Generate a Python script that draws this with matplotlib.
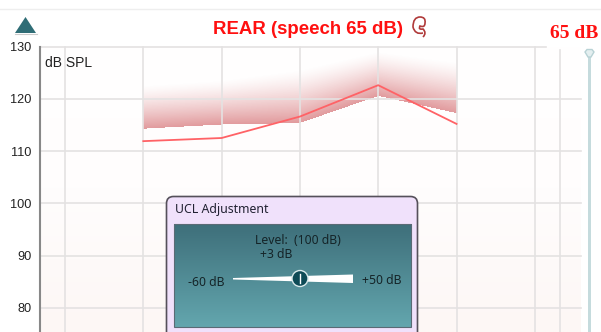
import numpy as np
import matplotlib
matplotlib.use("Agg")
import matplotlib.pyplot as plt
from matplotlib.patches import FancyBboxPatch, Polygon, Circle, Rectangle, PathPatch
from matplotlib.path import Path
from matplotlib.colors import LinearSegmentedColormap

plt.rcParams['font.family'] = ['Liberation Sans', 'DejaVu Sans']

# values
grid_freqs = [125, 250, 500, 1000, 2000, 4000, 8000, 10000]
y_ticks = [80, 90, 100, 110, 120, 130]
freqs = [250, 500, 1000, 2000, 4000]
rear_curve = [111.9, 112.5, 116.6, 122.6, 115.2]
band_lower = [114.2, 115.0, 115.3, 120.5, 117.2]
band_upper = [122.5, 123.5, 125.5, 129.0, 127.0]

teal = "#2f6d76"
red = "#ff1010"
grid_col = "#e4e2e2"
panel_font = ["Noto Sans", "DejaVu Sans"]


def px_to_freq(px):
    return 125 * 2 ** ((px - 65) / 78.3)


fig = plt.figure(figsize=(6.01, 3.32), dpi=100, facecolor="white")
ax = fig.add_axes([40 / 601, 0, (581 - 40) / 601, (332 - 46.5) / 332])
ax.set_xscale('log', base=2)
ax.set_xlim(px_to_freq(40), px_to_freq(581))
ax.set_ylim(75.4, 130)

# faint pink wash towards the bottom of the plot
wash = LinearSegmentedColormap.from_list("wash", ["#fdf7f5", "#fffdfd", "#ffffff"])
ax.imshow(np.linspace(0, 1, 100).reshape(-1, 1), cmap=wash, origin="lower", aspect="auto",
          extent=[*ax.get_xlim(), 75.4, 130], zorder=0, transform=ax.transData)
ax.set_xscale('log', base=2)
ax.set_xlim(px_to_freq(40), px_to_freq(581))
ax.set_ylim(75.4, 130)

# band fades upwards from its lower edge, one cell per pixel
grid_x = np.geomspace(freqs[0], freqs[-1], 314)
grid_y = np.linspace(110, 130, 105)
low = np.interp(np.log2(grid_x), np.log2(freqs), band_lower)
up = np.interp(np.log2(grid_x), np.log2(freqs), band_upper)
frac = (grid_y[:, None] - low) / (up - low)
rgba = np.zeros((len(grid_y), len(grid_x), 4))
rgba[..., :3] = (0.77, 0.22, 0.24)
rgba[..., 3] = np.where((frac >= 0) & (frac <= 1), 0.5 * (1 - np.clip(frac, 0, 1)) ** 1.3, 0)
ax.pcolormesh(grid_x, grid_y, rgba, shading="nearest", zorder=1, antialiased=False, linewidth=0)
ax.set_xlim(px_to_freq(40), px_to_freq(581))
ax.set_ylim(75.4, 130)

for f in grid_freqs:
    ax.plot([f, f], [75.4, 129.3 if f == 10000 else 130], color=grid_col, lw=1.2, zorder=2, clip_on=False)
for y in y_ticks:
    xmax = px_to_freq(546) if y == 130 else px_to_freq(581)
    ax.plot([px_to_freq(40), xmax], [y, y], color=grid_col, lw=1.2, zorder=2, clip_on=False)

ax.plot(freqs, rear_curve, color="#ff6266", lw=1.3, zorder=3)

for s in ["top", "right", "bottom"]:
    ax.spines[s].set_visible(False)
ax.spines["left"].set_color("#888888")
ax.spines["left"].set_linewidth(1.5)
ax.set_xticks([])
ax.minorticks_off()
ax.set_xticks([], minor=True)
ax.set_yticks(y_ticks)
ax.set_yticklabels([str(v) for v in y_ticks], fontsize=9.2, color="#222222")
ax.tick_params(axis="y", length=0, pad=6)

# overlay in pixel coordinates for the window furniture
ov = fig.add_axes([0, 0, 1, 1], facecolor="none")
ov.set_axis_off()

ov.plot([0, 601], [9, 9], color="#eeeeee", lw=1)
ov.add_patch(Polygon([[15, 33], [36, 33], [25.5, 17]], closed=True, facecolor=teal, edgecolor="none"))
ov.plot([15, 37], [34, 34], color="#cccccc", lw=0.8)

ov.text(45, 63, "dB SPL", fontsize=10, color="#222222", va="center", ha="left")
ov.text(213, 29.5, "REAR (speech 65 dB)", fontsize=13.4, color=red, va="center", ha="left", fontweight="bold")
ov.text(550, 33, "65 dB", fontsize=14, color=red, va="center", ha="left",
        family=["Liberation Serif"], fontweight="bold")

# ear
ear = Path([(423, 33), (415, 35), (413, 27), (413, 17), (420, 17), (426, 17), (425, 23),
            (425, 28), (420, 26), (418, 30), (423, 29), (427, 33), (423, 37)],
           [1, 3, 3, 3, 3, 3, 3, 3, 3, 3, 3, 3, 3])
ov.add_patch(PathPatch(ear, facecolor="none", edgecolor="#b03a3a", lw=1.2))

# level slider
ov.add_patch(Rectangle((587.5, 56), 3.5, 280, facecolor="#c5dbdd", edgecolor="none"))
ov.add_patch(Polygon([[585, 52], [587, 49.5], [592, 49.5], [594, 52], [591, 57], [588, 57]],
                     closed=True, facecolor="#e4eff0", edgecolor="#b8d2d5", lw=1))

# UCL panel
ov.add_patch(FancyBboxPatch((170, 200), 244, 140, boxstyle="round,pad=3.5,rounding_size=7",
                            facecolor="#f0e1fb", edgecolor="#55505a", lw=1.2, zorder=4))
teal_grad = LinearSegmentedColormap.from_list("tg", ["#3e6f7a", "#63a6ae"])
ov.imshow(np.linspace(0, 1, 100).reshape(-1, 1), cmap=teal_grad, aspect="auto",
          extent=[173.5, 411, 327, 224], zorder=5)
ov.add_patch(Rectangle((173.5, 224), 237.5, 103, facecolor="none", edgecolor="#5a6a75", lw=0.8, zorder=6))
ov.text(175, 210, "UCL Adjustment", fontsize=8.9, color="#222233", va="center", ha="left", zorder=6, family=panel_font)
ov.text(255, 240, "Level:  (100 dB)", fontsize=8.8, color="#152428", va="center", ha="left", zorder=7, family=panel_font)
ov.text(260, 254, "+3 dB", fontsize=8.8, color="#152428", va="center", ha="left", zorder=7, family=panel_font)
ov.text(188, 283, "-60 dB", fontsize=8.8, color="#152428", va="center", ha="left", zorder=7, family=panel_font)
ov.text(362, 281, "+50 dB", fontsize=8.8, color="#152428", va="center", ha="left", zorder=7, family=panel_font)
ov.add_patch(Polygon([[233, 278], [353, 274.5], [353, 283], [233, 279.5]], closed=True,
                     facecolor="white", edgecolor="none", zorder=7))
ov.add_patch(Circle((300, 278.5), 8, facecolor="#0d4a56", edgecolor="#d8e8ea", lw=1, zorder=8))
ov.plot([300, 300], [274, 283], color="white", lw=1, zorder=9)

ov.set_xlim(0, 601)
ov.set_ylim(332, 0)

fig.savefig("out.png", dpi=100)
